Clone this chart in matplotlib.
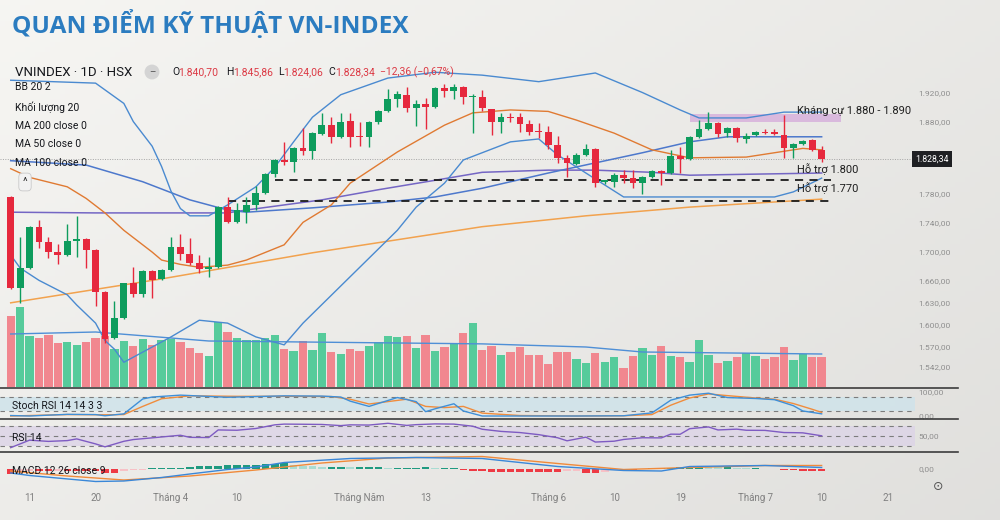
import numpy as np
import matplotlib
matplotlib.use("Agg")
import matplotlib.pyplot as plt
from matplotlib.lines import Line2D
from matplotlib.patches import Rectangle
from matplotlib.transforms import blended_transform_factory

plt.rcParams['font.family'] = ['Roboto', 'DejaVu Sans']

# ---------------- data (bar index 0 = first visible session) ----------------
opens = [1776.4, 1650.4, 1678.0, 1734.6, 1713.9, 1700.1, 1696.0, 1715.3, 1718.0, 1702.9,
         1644.9, 1581.5, 1609.1, 1657.3, 1642.2, 1673.9, 1662.9, 1675.3, 1707.0, 1697.3,
         1684.9, 1676.7, 1679.4, 1762.1, 1741.5, 1755.3, 1764.9, 1781.5, 1807.7, 1826.9,
         1824.2, 1843.5, 1839.4, 1862.8, 1875.2, 1858.7, 1880.7, 1860.1, 1858.7, 1879.4,
         1894.5, 1911.1, 1916.6, 1898.7, 1904.2, 1900.0, 1926.2, 1922.1, 1927.6, 1913.8,
         1913.8, 1897.3, 1879.4, 1886.3, 1886.3, 1876.6, 1867.0, 1865.6, 1847.7, 1829.7,
         1821.4, 1833.9, 1842.1, 1796.6, 1796.6, 1806.3, 1802.1, 1795.2, 1803.5, 1811.8,
         1809.0, 1832.5, 1828.3, 1858.7, 1869.7, 1878.0, 1864.2, 1871.1, 1855.9, 1861.4,
         1865.6, 1865.6, 1861.4, 1843.5, 1849.0, 1854.5, 1840.70]
highs = [1777.5, 1720.8, 1735.5, 1744.2, 1720.8, 1711.1, 1738.7, 1749.7, 1719.0, 1704.0,
         1646.0, 1632.5, 1658.0, 1679.4, 1675.0, 1675.0, 1676.0, 1720.8, 1724.9, 1719.4,
         1696.0, 1693.2, 1763.0, 1775.9, 1767.7, 1775.9, 1791.1, 1809.0, 1828.0, 1851.8,
         1845.0, 1871.1, 1865.0, 1891.8, 1886.3, 1891.8, 1891.8, 1879.4, 1881.0, 1896.0,
         1924.9, 1922.1, 1927.6, 1909.7, 1912.5, 1927.0, 1931.8, 1931.8, 1929.0, 1918.0,
         1923.5, 1898.0, 1891.8, 1891.8, 1891.8, 1882.1, 1878.0, 1873.9, 1860.1, 1833.9,
         1836.6, 1849.0, 1843.0, 1800.0, 1809.0, 1813.2, 1813.2, 1805.0, 1813.0, 1813.0,
         1840.8, 1844.9, 1860.0, 1882.1, 1893.2, 1879.0, 1872.0, 1872.0, 1864.2, 1867.0,
         1869.7, 1869.7, 1889.0, 1850.0, 1854.0, 1856.0, 1845.86]
lows = [1649.0, 1629.8, 1677.0, 1705.6, 1691.8, 1683.5, 1695.0, 1693.2, 1678.0, 1625.6,
        1574.6, 1580.0, 1608.0, 1638.0, 1638.0, 1636.7, 1662.0, 1674.0, 1689.1, 1682.2,
        1671.1, 1665.6, 1678.0, 1740.1, 1740.0, 1740.1, 1758.0, 1780.0, 1803.5, 1820.1,
        1810.4, 1833.9, 1828.3, 1861.0, 1850.4, 1857.0, 1844.9, 1846.3, 1844.9, 1876.6,
        1893.0, 1900.0, 1893.2, 1873.9, 1869.7, 1899.0, 1913.8, 1911.1, 1904.2, 1864.2,
        1894.5, 1861.4, 1864.2, 1879.4, 1865.6, 1861.4, 1857.3, 1842.1, 1822.8, 1803.5,
        1820.1, 1832.0, 1789.7, 1793.9, 1789.7, 1795.2, 1788.3, 1780.1, 1802.0, 1792.5,
        1808.0, 1809.0, 1827.0, 1857.0, 1868.0, 1858.7, 1858.7, 1851.8, 1850.4, 1860.0,
        1862.8, 1861.0, 1829.7, 1829.7, 1848.0, 1839.0, 1824.06]
closes = [1650.0, 1678.0, 1734.6, 1713.9, 1700.1, 1696.0, 1715.3, 1718.0, 1702.9, 1644.9,
          1580.1, 1609.1, 1657.3, 1642.2, 1673.9, 1661.5, 1675.3, 1707.0, 1697.3, 1684.9,
          1676.7, 1679.4, 1762.1, 1741.5, 1758.0, 1764.9, 1781.5, 1807.7, 1826.9, 1824.2,
          1843.5, 1839.4, 1864.2, 1875.2, 1858.7, 1879.4, 1858.7, 1858.7, 1879.4, 1894.5,
          1911.1, 1918.0, 1898.7, 1904.2, 1900.0, 1926.2, 1922.1, 1927.6, 1913.8, 1915.2,
          1898.7, 1879.4, 1886.3, 1884.9, 1876.6, 1865.6, 1865.6, 1847.7, 1829.7, 1822.8,
          1833.9, 1842.1, 1795.2, 1799.4, 1806.3, 1802.1, 1795.2, 1803.5, 1811.8, 1809.0,
          1832.5, 1828.3, 1858.7, 1869.7, 1878.0, 1862.8, 1871.1, 1857.3, 1860.1, 1865.6,
          1864.2, 1862.8, 1843.5, 1849.0, 1853.2, 1840.8, 1828.34]
volumes = [1141, 1275, 811, 779, 837, 704, 715, 677, 715, 779,
           816, 608, 731, 661, 768, 677, 757, 768, 725, 624,
           539, 491, 1045, 875, 784, 752, 752, 779, 837, 608,
           581, 731, 592, 864, 565, 523, 608, 581, 651, 725,
           811, 795, 811, 629, 832, 581, 635, 704, 859, 1024,
           592, 651, 517, 555, 635, 517, 517, 368, 555, 555,
           448, 379, 544, 395, 485, 304, 496, 624, 517, 651,
           496, 480, 405, 752, 512, 384, 421, 485, 549, 496,
           448, 485, 645, 437, 528, 475, 485]

date_ticks = [2, 9, 17, 24, 37, 44, 57, 64, 71, 79, 86, 93]
date_labels = ["11", "20", "Tháng 4", "10", "Tháng Năm", "13", "Tháng 6", "10", "19",
               "Tháng 7", "10", "21"]
price_ticks = [1542, 1570, 1600, 1630, 1660, 1700, 1740, 1780, 1880, 1920]

# overlay lines (bar index, value)
bb_up_x = [0, 9, 12, 13, 15, 16, 17, 18, 19, 21, 23, 26, 28, 30, 32, 35, 40, 45, 50, 56,
           62, 67, 71, 73, 78, 82, 86]
bb_up_y = [1937, 1933, 1905, 1880, 1846, 1818, 1784, 1760, 1750, 1750, 1765, 1790, 1817,
           1852, 1886, 1917, 1940, 1948, 1944, 1935, 1947, 1920, 1896, 1885, 1885, 1893, 1893]
bb_lo_x = [0, 1, 3, 6, 7, 9, 10, 11, 12, 17, 20, 23, 26, 29, 31, 41, 43, 46, 48, 53, 56,
           58, 61, 65, 71, 81, 83, 86]
bb_lo_y = [1696, 1678, 1661, 1641, 1627, 1602, 1578, 1566, 1548, 1583, 1606, 1602, 1583,
           1572, 1602, 1730, 1762, 1795, 1827, 1852, 1856, 1834, 1809, 1776, 1776, 1776,
           1783, 1802]
bb_mid_x = [0, 2, 6, 8, 10, 12, 15, 16, 18, 20, 23, 25, 29, 31, 34, 36, 41, 46, 49, 53,
            57, 60, 64, 68, 72, 78, 84, 86]
bb_mid_y = [1815, 1803, 1790, 1774, 1754, 1730, 1700, 1689, 1683, 1679, 1682, 1689, 1710,
            1741, 1765, 1795, 1838, 1875, 1892, 1896, 1894, 1882, 1864, 1841, 1830, 1831,
            1843, 1841]
ma50_x = [0, 8, 14, 19, 23, 25, 32, 40, 45, 50, 57, 62, 67, 72, 76, 86]
ma50_y = [1826, 1820, 1797, 1772, 1758, 1755, 1761, 1769, 1776, 1788, 1809, 1823, 1837,
          1852, 1859, 1859]
ma100_x = [0, 9, 23, 25, 33, 39, 45, 50, 57, 62, 68, 72, 86]
ma100_y = [1755, 1754, 1754, 1758, 1772, 1786, 1799, 1810, 1813, 1813, 1810, 1806, 1809]
ma200_x = [0, 16, 32, 50, 61, 72, 86]
ma200_y = [1630, 1663, 1699, 1735, 1750, 1762, 1773]
vol_ma_x = [0, 9, 21, 50, 61, 67, 86]
vol_ma_y = [848, 880, 736, 690, 640, 560, 528]

support_levels = [1800, 1770]
support_start = [28, 23]
support_end = 87
res_low, res_high = 1880, 1890
res_start, res_end = 72, 88

stoch_k_x = [0, 2, 6, 9, 10, 12, 14, 15, 18, 23, 29, 33, 35, 36, 38, 41, 43, 44, 45, 47,
             48, 50, 54, 60, 65, 68, 70, 72, 74, 76, 79, 81, 83, 84, 86]
stoch_k_y = [2, 0, 7, 6, 1, 9, 71, 79, 87, 78, 84, 83, 79, 62, 40, 77, 60, 18, 30, 51,
             21, 0, 0, 0, 1, 13, 66, 87, 95, 77, 73, 68, 43, 21, 9]
stoch_d_x = [0, 3, 6, 10, 12, 14, 16, 19, 24, 30, 34, 36, 38, 40, 42, 44, 46, 48, 50, 54,
             60, 65, 68, 70, 72, 74, 76, 79, 81, 83, 85, 86]
stoch_d_y = [0, 3, 6, 5, 6, 40, 72, 84, 82, 82, 81, 70, 50, 60, 70, 40, 35, 40, 12, 2,
             0, 1, 6, 45, 75, 92, 85, 75, 70, 52, 28, 15]
rsi_x = [0, 2, 4, 6, 7, 9, 10, 12, 13, 15, 17, 18, 19, 21, 22, 24, 26, 28, 29, 31, 33, 35,
         36, 38, 40, 42, 43, 45, 47, 49, 50, 52, 54, 56, 58, 59, 61, 62, 64, 65, 67, 69,
         70, 71, 72, 74, 75, 77, 78, 80, 82, 83, 84, 86]
rsi_y = [26.7, 41.7, 39.2, 40.8, 44.2, 34.2, 28.3, 39.4, 42.9, 46.3, 49.8, 51.5, 47.3,
         46.9, 62.1, 61.5, 65.0, 72.3, 73.8, 73.5, 73.1, 70.8, 72.3, 71.9, 75.4, 71.2,
         72.7, 74.2, 73.8, 69.6, 63.5, 59.2, 56.9, 52.7, 46.5, 40.4, 47.7, 37.9, 39.6,
         43.1, 46.5, 46.2, 53.7, 53.5, 64.6, 68.1, 62.1, 63.7, 61.5, 61.2, 56.9, 56.7,
         56.3, 50.4]
macd_x = [0, 2, 9, 12, 16, 19, 23, 26, 29, 36, 43, 50, 58, 65, 69, 72, 80, 86]
macd_y = [-8, -13, -25, -24, -17, -10, -1, 4, 13, 21, 23, 21, 5, -3, -4, 5, 7, 3]
signal_x = [0, 6, 12, 19, 26, 33, 40, 50, 58, 65, 72, 80, 86]
signal_y = [-4, -14, -22, -14, -2, 12, 22, 25, 11, -1, 3, 7, 7]
macd_hist = [-10, -8, -4, -4, -4, -3, -3, -3, -3, -4,
             -8, -8, -4, -2, -1, 2, 3, 3, 3, 5,
             6, 6, 7, 8, 8, 9, 9, 10, 10, 12,
             8, 7, 6, 5, 5, 5, 4, 4, 4, 5,
             3, 3, 3, 3, 4, 2, 2, 2, -2, -3,
             -4, -6, -6, -6, -6, -6, -6, -6, -6, -4,
             -3, -7, -8, -6, -2, -1, -1, 1, 2, 2,
             3, 4, 5, 6, 5, 4, 4, 3, 2, 2,
             1, 1, -1, -2, -3, -4, -4]


def vn(v):
    # 1,920.00 -> 1.920,00
    return f"{v:,.2f}".replace(",", "#").replace(".", ",").replace("#", ".")


# ---------------- layout ----------------
W, H = 1000, 520
fig = plt.figure(figsize=(10, 5.2), dpi=100)


def fy(ypx):
    return 1 - ypx / H


# photo-like background
bg = fig.add_axes([0, 0, 1, 1], zorder=-10)
gx, gy = np.meshgrid(np.linspace(0, 1, 200), np.linspace(0, 1, 100))
lum = 0.965 - 0.05 * gx - 0.035 * gy
bg.imshow(np.dstack([lum, lum * 0.997, lum * 0.985]), aspect='auto', extent=[0, 1, 0, 1])
bg.axis('off')

pw = 915 / W
price_ax = fig.add_axes([0, fy(387), pw, (387 - 55) / H])
vol_ax = price_ax.twinx()
stoch_ax = fig.add_axes([0, fy(418), pw, 30 / H])
rsi_ax = fig.add_axes([0, fy(451), pw, 32 / H])
macd_ax = fig.add_axes([0, fy(487), pw, 35 / H])

price_ax.set_zorder(3)
vol_ax.set_zorder(2)

xlim = (-1.135, 95.9)
for a in (price_ax, vol_ax, stoch_ax, rsi_ax, macd_ax):
    a.set_xlim(*xlim)
    a.patch.set_visible(False)
    for s in a.spines.values():
        s.set_visible(False)
    a.tick_params(axis='x', bottom=False, labelbottom=False)
    a.yaxis.set_ticks_position('right')
    a.tick_params(axis='y', length=0, left=False, labelleft=False, right=True,
                  labelright=True, labelsize=6, labelcolor='#8e8e8e', pad=2.5)

idx = np.arange(len(closes))
up = np.array(closes) >= np.array(opens)
candle_col = np.where(up, '#0e9c5d', '#e6283d')
vol_col = np.where(up, '#56cb9b', '#f1878f')

# ---------------- volume ----------------
vol_ax.bar(idx, volumes, width=0.88, color=vol_col, linewidth=0)
vol_ax.plot(vol_ma_x, vol_ma_y, color='#4f8fd6', lw=1.0)
vol_ax.set_ylim(0, 5312)
vol_ax.set_yticks([])

# ---------------- price pane ----------------
price_ax.set_ylim(1513.9, 1971.8)
price_ax.set_yticks(price_ticks)
price_ax.set_yticklabels([vn(v) for v in price_ticks])

price_ax.plot(ma200_x, ma200_y, color='#f2a24e', lw=1.1, zorder=2)
price_ax.plot(ma100_x, ma100_y, color='#7466c4', lw=1.1, zorder=2)
price_ax.plot(ma50_x, ma50_y, color='#4d78cc', lw=1.1, zorder=2)
price_ax.plot(bb_up_x, bb_up_y, color='#4a8ad0', lw=1.0, zorder=2)
price_ax.plot(bb_lo_x, bb_lo_y, color='#4a8ad0', lw=1.0, zorder=2)
price_ax.plot(bb_mid_x, bb_mid_y, color='#e07a32', lw=1.0, zorder=2)

price_ax.add_patch(Rectangle((res_start, res_low), res_end - res_start, res_high - res_low,
                             facecolor='#d6aedb', alpha=0.8, edgecolor='none', zorder=1,
                             clip_on=False))
for lvl, st in zip(support_levels, support_start):
    price_ax.plot([st, support_end], [lvl, lvl], color='#1c1c1c', lw=1.3,
                  ls=(0, (4.5, 3.5)), zorder=2)

price_ax.axhline(closes[-1], color='#a4a4a4', lw=0.7, ls=(0, (1, 1.5)), zorder=1)

price_ax.vlines(idx, lows, highs, colors=candle_col, lw=1.0, zorder=4)
body_low = np.minimum(opens, closes)
body_h = np.maximum(np.abs(np.subtract(closes, opens)), 1.3)
price_ax.bar(idx, body_h, bottom=body_low, width=0.72, color=candle_col, linewidth=0, zorder=5)

lbl_x = 83.4
price_ax.text(lbl_x, res_high + 5, "Kháng cự 1.880 - 1.890", fontsize=8, color='#1e1e1e',
              va='center', ha='left', zorder=6, clip_on=False)
for lvl, off in zip(support_levels, [14, 18]):
    price_ax.text(lbl_x, lvl + off, f"Hỗ trợ {vn(lvl)[:-3]}", fontsize=8, color='#1e1e1e',
                  va='center', ha='left', zorder=6)

tr = blended_transform_factory(price_ax.transAxes, price_ax.transData)
price_ax.text(1.0, closes[-1], vn(closes[-1]), transform=tr, fontsize=6.3, color='white',
              ha='left', va='center', zorder=7, clip_on=False,
              bbox=dict(boxstyle='square,pad=0.35', fc='#1f2023', ec='none'))

# ---------------- Stoch RSI ----------------
stoch_ax.set_ylim(-8.3, 116.7)
stoch_ax.axhspan(20, 80, color='#cfe3ea', alpha=0.85, lw=0)
for lv in (80, 20):
    stoch_ax.axhline(lv, color='#7c7c7c', lw=0.8, ls=(0, (4, 4)))
stoch_ax.plot(stoch_d_x, stoch_d_y, color='#f08c3c', lw=1.0)
stoch_ax.plot(stoch_k_x, stoch_k_y, color='#3f8fd8', lw=1.0)
stoch_ax.set_yticks([0, 100])
stoch_ax.set_yticklabels([vn(0), vn(100)])

# ---------------- RSI ----------------
rsi_ax.set_ylim(20, 84)
rsi_ax.axhspan(30, 70, color='#ddd5e7', alpha=0.85, lw=0)
for lv in (70, 50, 30):
    rsi_ax.axhline(lv, color='#7c7c7c', lw=0.8, ls=(0, (4, 4)))
rsi_ax.plot(rsi_x, rsi_y, color='#7e5bc2', lw=1.0)
rsi_ax.set_yticks([50])
rsi_ax.set_yticklabels([vn(50)])

# ---------------- MACD ----------------
macd_ax.set_ylim(-36, 34)
hist = np.array(macd_hist, dtype=float)
prev = np.concatenate([[0], hist[:-1]])
hcol = np.where(hist >= 0,
                np.where(hist >= prev, '#1f9a80', '#a9dcd2'),
                np.where(hist <= prev, '#ee3a44', '#f7c1c6'))
macd_ax.bar(idx, hist, width=0.8, color=hcol, linewidth=0)
macd_ax.plot(signal_x, signal_y, color='#f08a3a', lw=1.0)
macd_ax.plot(macd_x, macd_y, color='#3a87d8', lw=1.0)
macd_ax.set_yticks([0])
macd_ax.set_yticklabels([vn(0)])
macd_ax.set_xticks(date_ticks)
macd_ax.set_xticklabels(date_labels)
macd_ax.tick_params(axis='x', labelbottom=True, length=0, pad=4.5, labelsize=7,
                    labelcolor='#808080')

# pane separators
for ypx in (387.5, 418.5, 451.5):
    fig.add_artist(Line2D([0, 0.958], [fy(ypx), fy(ypx)], color='#3c3c3c', lw=1.2))

# ---------------- texts ----------------
fig.text(12 / W, fy(25), "QUAN ĐIỂM KỸ THUẬT VN-INDEX", fontsize=17.6, fontweight='bold',
         color='#2b7cc0', va='center', ha='left', family=['Open Sans', 'DejaVu Sans'])

fig.text(15 / W, fy(72), "VNINDEX · 1D · HSX", fontsize=9.5, color='#15171c', va='center')
fig.text(152 / W, fy(72), "–", fontsize=7, color='#555555', va='center', ha='center',
         bbox=dict(boxstyle='circle,pad=0.25', fc='#d4d4d4', ec='none'))
red = '#dc3a45'
ohlc = [(172, "O", '#15171c'), (178, "1.840,70", red), (226, "H", '#15171c'),
        (233, "1.845,86", red), (278, "L", '#15171c'), (283, "1.824,06", red),
        (328, "C", '#15171c'), (335, "1.828,34", red), (380, "−12,36 (−0,67%)", red)]
for xp, s, c in ohlc:
    fig.text(xp / W, fy(72), s, fontsize=7.5, color=c, va='center', ha='left')

for ypx, s in [(87, "BB 20 2"), (107, "Khối lượng 20"), (126, "MA 200 close 0"),
               (144, "MA 50 close 0"), (163, "MA 100 close 0")]:
    fig.text(15 / W, fy(ypx), s, fontsize=7.5, color='#15171c', va='center', ha='left')
fig.text(25 / W, fy(182), "^", fontsize=8, color='#333333', va='center', ha='center',
         bbox=dict(boxstyle='round,pad=0.35', fc='#f2f2f2', ec='#c9c9c9', lw=0.6))

fig.text(12 / W, fy(406), "Stoch RSI 14 14 3 3", fontsize=7.5, color='#15171c', va='center')
fig.text(12 / W, fy(438), "RSI 14", fontsize=7.5, color='#15171c', va='center')
fig.text(12 / W, fy(471), "MACD 12 26 close 9", fontsize=7.5, color='#15171c', va='center')

fig.text(938 / W, fy(487), "⊙", fontsize=9, color='#555555', va='center', ha='center',
         family='DejaVu Sans')

fig.savefig("out.png", dpi=100, facecolor=fig.get_facecolor())
